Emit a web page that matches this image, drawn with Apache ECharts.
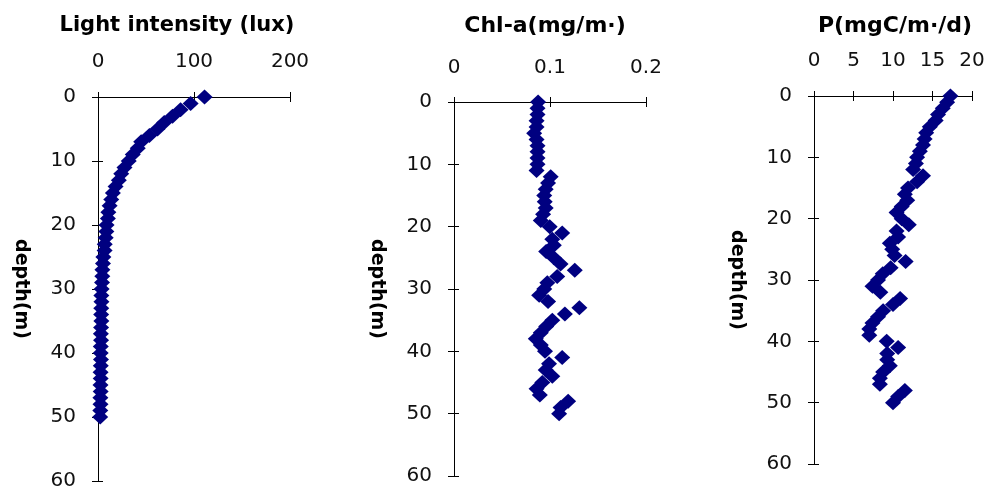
<!DOCTYPE html>
<html>
<head>
<meta charset="utf-8">
<script src="https://cdn.jsdelivr.net/npm/echarts@6/dist/echarts.min.js"></script>
<style>
  html, body { margin: 0; padding: 0; background: #fff; }
  #chart { width: 994px; height: 491px; }
</style>
</head>
<body>
<div id="chart"></div>
<script>
// Sampling depths (m)
const depth = [0, 1, 2, 3, 4, 5, 6, 7, 8, 9, 10, 11, 12, 13, 14, 15, 16, 17, 18, 19, 20,
  21, 22, 23, 24, 25, 26, 27, 28, 29, 30, 31, 32, 33, 34, 35, 36, 37, 38, 39, 40,
  41, 42, 43, 44, 45, 46, 47, 48, 49, 50];

// Light intensity (lux) at each depth
const lightLux = [111, 96.5, 86, 77.6, 69, 62, 53.5, 45, 41.4, 36.2, 32,
  27.6, 24.2, 21.7, 18.3, 15.5, 13.8, 12.1, 10.8, 10.3, 8.9,
  8.7, 8, 7, 6.9, 5.6, 5.2, 4.6, 4.5, 4.2, 3.8,
  3.5, 3.6, 3.4, 3.3, 3.5, 3.2, 3.0, 3.2, 2.9, 2.8,
  3.1, 2.9, 2.7, 2.8, 2.6, 2.8, 2.5, 2.6, 2.4, 2.3];

// Chlorophyll-a (mg/m3) at each depth
const chlA = [0.0876, 0.087, 0.087, 0.086, 0.086, 0.0835, 0.086, 0.087, 0.087, 0.087, 0.087,
  0.086, 0.1007, 0.098, 0.0955, 0.094, 0.0945, 0.0955, 0.0928, 0.0904, 0.0997,
  0.1127, 0.1024, 0.104, 0.096, 0.104, 0.111, 0.1258, 0.1075, 0.0972, 0.094,
  0.0887, 0.098, 0.1306, 0.1155, 0.1024, 0.096, 0.0904, 0.0852, 0.0904, 0.0948,
  0.1127, 0.099, 0.0955, 0.1024, 0.092, 0.086, 0.0894, 0.1189, 0.111, 0.1095];

// Primary production (mgC/m3/d) at each depth
const production = [17.27, 16.85, 16.3, 15.7, 15.4, 14.66, 14.2, 14.0, 13.8, 13.4, 13.05,
  12.9, 12.55, 13.8, 13.05, 11.9, 11.5, 11.8, 11.1, 10.45, 11.1,
  12.0, 10.45, 10.65, 9.6, 9.9, 10.2, 11.6, 9.7, 8.7, 8.1,
  7.4, 8.4, 10.9, 10.0, 8.75, 8.1, 7.4, 7.0, 7.0, 9.2,
  10.65, 9.27, 9.27, 9.6, 8.75, 8.34, 8.34, 11.5, 10.65, 10.0];

// Axis ticks
const lightTicks = [0, 100, 200];
const chlTicks = [0, 0.1, 0.2];
const productionTicks = [0, 5, 10, 15, 20];
const depthTicks = [0, 10, 20, 30, 40, 50, 60];

const panelTitles = ['Light intensity (lux)', 'Chl-a(mg/m\u00B7)', 'P(mgC/m\u00B7/d)'];
const depthName = 'depth(m)';

const panels = [
  { values: lightLux, ticks: lightTicks, title: panelTitles[0],
    grid: { left: 98, top: 97, width: 192, height: 385 }, titleX: 177, labelMargin: 25, titleSize: 21 },
  { values: chlA, ticks: chlTicks, title: panelTitles[1],
    grid: { left: 454, top: 102, width: 192, height: 374 }, titleX: 545, labelMargin: 24, titleSize: 22 },
  { values: production, ticks: productionTicks, title: panelTitles[2],
    grid: { left: 814, top: 96, width: 158, height: 368 }, titleX: 895, labelMargin: 25, titleSize: 22 }
];

const ink = '#000';
const labelFont = { fontFamily: 'DejaVu Sans', fontSize: 20, color: '#111' };

const grids = [], xAxes = [], yAxes = [], series = [], titles = [];

panels.forEach((p, i) => {
  grids.push(Object.assign({ containLabel: false }, p.grid));

  titles.push({
    text: p.title,
    left: p.titleX,
    top: 15,
    padding: 0,
    textAlign: 'center',
    textStyle: { fontFamily: 'DejaVu Sans', fontWeight: 'bold', fontSize: p.titleSize, color: ink }
  });

  const xRange = {
    min: p.ticks[0],
    max: p.ticks[p.ticks.length - 1],
    interval: p.ticks[1] - p.ticks[0]
  };
  const yRange = {
    min: depthTicks[0],
    max: depthTicks[depthTicks.length - 1],
    interval: depthTicks[1] - depthTicks[0]
  };

  // value axis along the top, ticks pointing outward
  xAxes.push(Object.assign({
    type: 'value', gridIndex: i, position: 'top',
    axisLine: { show: true, onZero: false, lineStyle: { color: ink, width: 1 } },
    axisTick: { show: true, inside: false, length: 5, lineStyle: { color: ink } },
    axisLabel: Object.assign({ margin: p.labelMargin, interval: 0, hideOverlap: false }, labelFont),
    splitLine: { show: false }
  }, xRange));
  // twin axis supplying the inward half of each tick
  xAxes.push(Object.assign({
    type: 'value', gridIndex: i, position: 'top',
    axisLine: { show: false },
    axisTick: { show: true, inside: true, length: 5, lineStyle: { color: ink } },
    axisLabel: { show: false },
    splitLine: { show: false }
  }, xRange));

  // depth axis, increasing downward
  yAxes.push(Object.assign({
    type: 'value', gridIndex: i, position: 'left', inverse: true,
    name: depthName, nameLocation: 'middle', nameGap: 68, nameRotate: -90,
    nameTextStyle: { fontFamily: 'DejaVu Sans', fontWeight: 'bold', fontSize: 19, color: ink },
    axisLine: { show: true, onZero: false, lineStyle: { color: ink, width: 1 } },
    axisTick: { show: true, inside: false, length: 6, lineStyle: { color: ink } },
    axisLabel: Object.assign({ margin: 22, interval: 0, hideOverlap: false }, labelFont),
    splitLine: { show: false }
  }, yRange));
  yAxes.push(Object.assign({
    type: 'value', gridIndex: i, position: 'left', inverse: true,
    axisLine: { show: false },
    axisTick: { show: true, inside: true, length: 5, lineStyle: { color: ink } },
    axisLabel: { show: false },
    splitLine: { show: false }
  }, yRange));

  series.push({
    type: 'scatter',
    xAxisIndex: 2 * i,
    yAxisIndex: 2 * i,
    symbol: 'diamond',
    symbolSize: [16, 15],
    itemStyle: { color: '#000080', opacity: 1 },
    data: depth.map((d, k) => [p.values[k], d]),
    z: 3
  });
});

const chart = echarts.init(document.getElementById('chart'), null, { renderer: 'canvas' });
chart.setOption({
  backgroundColor: '#fff',
  animation: false,
  title: titles,
  grid: grids,
  xAxis: xAxes,
  yAxis: yAxes,
  series: series
});
</script>
</body>
</html>
